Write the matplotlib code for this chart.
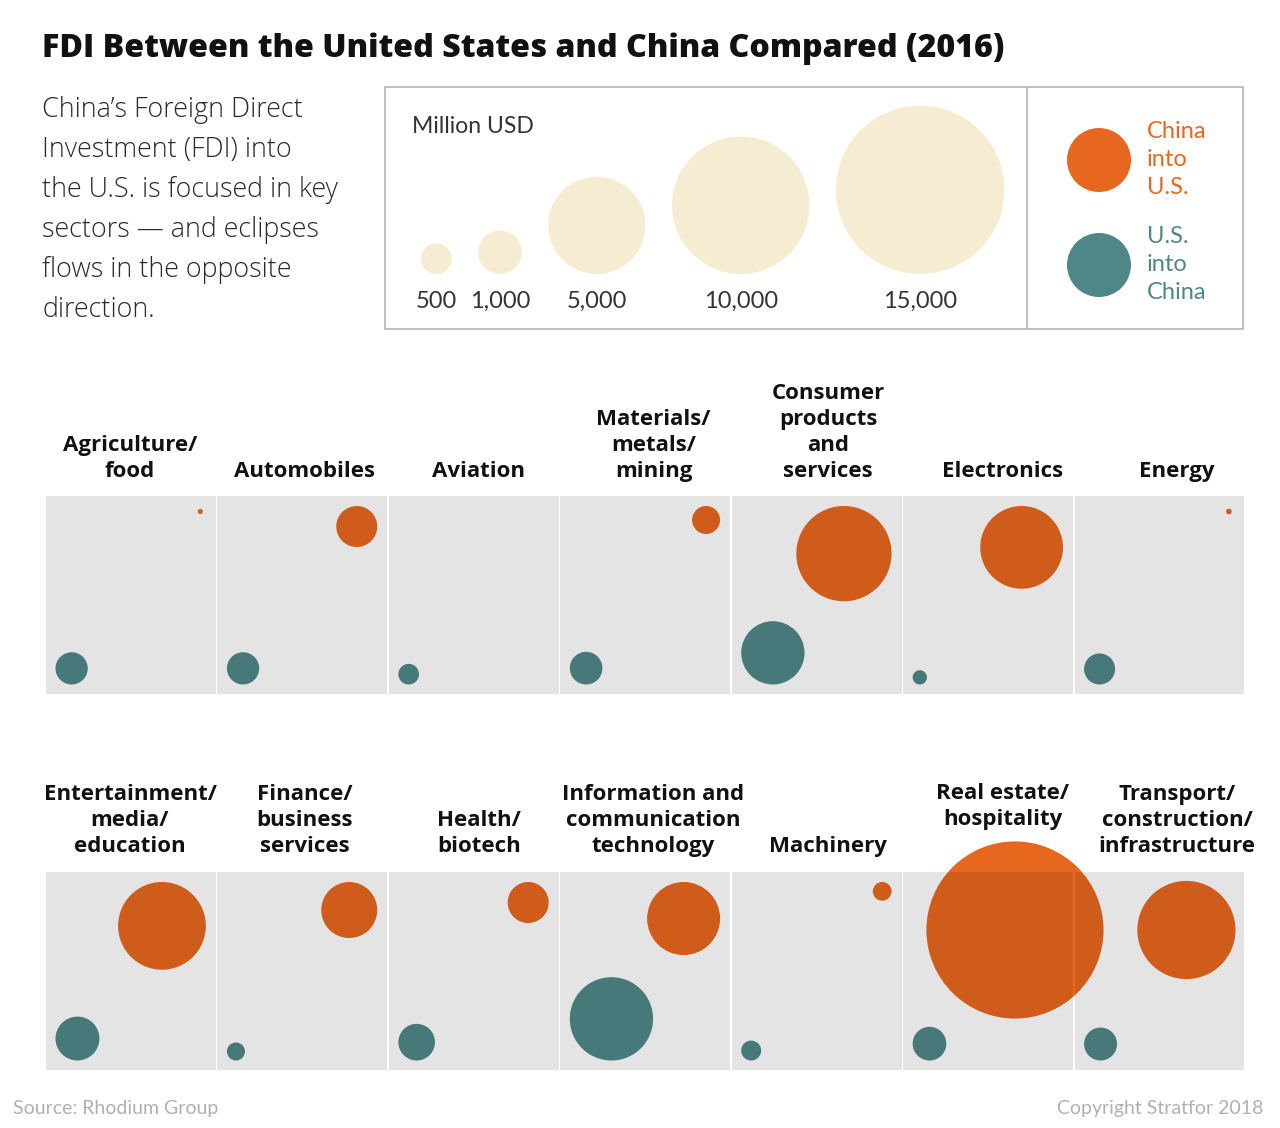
import matplotlib
matplotlib.use('Agg')
import matplotlib.pyplot as plt
from matplotlib.patches import Circle, Rectangle

# sector labels, one list of lines per panel (two rows of seven)
SECTORS = [
    ['Agriculture/', 'food'], ['Automobiles'], ['Aviation'],
    ['Materials/', 'metals/', 'mining'], ['Consumer', 'products', 'and', 'services'],
    ['Electronics'], ['Energy'],
    ['Entertainment/', 'media/', 'education'], ['Finance/', 'business', 'services'],
    ['Health/', 'biotech'], ['Information and', 'communication', 'technology'],
    ['Machinery'], ['Real estate/', 'hospitality'],
    ['Transport/', 'construction/', 'infrastructure'],
]
# million USD
CHINA_INTO_US = [14, 890, 0, 415, 4800, 3620, 17, 4070, 1660, 890, 2820, 185, 16600, 5100]
US_INTO_CHINA = [550, 550, 225, 565, 2120, 108, 510, 1020, 172, 710, 3670, 210, 600, 575]
LEGEND_VALUES = [500, 1000, 5000, 10000, 15000]
LEGEND_LABELS = ['500', '1,000', '5,000', '10,000', '15,000']

ORANGE = '#E8671E'
TEAL = '#4F8789'
CREAM = '#F6ECD2'
GRAY = '#E4E4E4'
FONT = 'Lato'
BOLD_FONT = 'Open Sans'

K = 1.375  # circle diameter in px per sqrt(million USD)

def radius(v):
    return K * v ** 0.5 / 2

def multiply(hex_color, bg=GRAY):
    ''' colour of a multiply-blended circle sitting on the gray panel '''
    c = matplotlib.colors.to_rgb(hex_color)
    b = matplotlib.colors.to_rgb(bg)
    return tuple(x * y for x, y in zip(c, b))

fig = plt.figure(figsize=(12.8, 11.28), dpi=100)
ax = fig.add_axes([0, 0, 1, 1])
ax.set_xlim(0, 1280)
ax.set_ylim(1128, 0)
ax.axis('off')

def text(x, y, s, size, weight='normal', color='#222222', ha='left', family=FONT):
    ax.text(x, y, s, fontsize=size, fontweight=weight, color=color, ha=ha,
            va='baseline', family=family)

# title and intro
text(42, 57, 'FDI Between the United States and China Compared (2016)', 23.1,
     weight='heavy', color='#111111', family=BOLD_FONT)
intro = ['China\u2019s Foreign Direct', 'Investment (FDI) into', 'the U.S. is focused in key',
         'sectors \u2014 and eclipses', 'flows in the opposite', 'direction.']
for i, line in enumerate(intro):
    text(42, 117 + 40 * i, line, 19.4, color='#2a2a2a', weight='light', family=BOLD_FONT)

# legend box
ax.add_patch(Rectangle((385, 87), 858, 242, fill=False, ec='#b5b5b5', lw=1.2))
ax.plot([1027, 1027], [87, 329], color='#b5b5b5', lw=1.2)
text(412, 133, 'Million USD', 16.6, color='#333333')
left = 421
for v, lab in zip(LEGEND_VALUES, LEGEND_LABELS):
    r = radius(v)
    cx = left + r
    ax.add_patch(Circle((cx, 274 - r), r, color=CREAM, lw=0))
    text(cx, 308, lab, 17, color='#333333', ha='center')
    left = cx + r + 26.5
for cy, col, lines in [(160, ORANGE, ['China', 'into', 'U.S.']),
                       (265, TEAL, ['U.S.', 'into', 'China'])]:
    ax.add_patch(Circle((1099, cy), 32, color=col, lw=0))
    for j, line in enumerate(lines):
        text(1147, cy - 22 + 28 * j, line, 17, color=col)

# panels
x0, x1 = 46, 1246
pw = (x1 - x0) / 7
ph = 198
rows_top = [496, 872]
label_base = [477, 852]
pad = 10
panels = []
for row in range(2):
    rects = []
    for i in range(7):
        rect = Rectangle((x0 + i * pw, rows_top[row]), pw - 1.6, ph, color=GRAY, lw=0, zorder=2)
        ax.add_patch(rect)
        rects.append(rect)
    panels.append(rects)

for n, (lines, cn, us) in enumerate(zip(SECTORS, CHINA_INTO_US, US_INTO_CHINA)):
    row, i = divmod(n, 7)
    top = rows_top[row]
    px = x0 + i * pw
    circles = []
    if cn > 0:
        r = radius(cn)
        off = pad + max(min(r, 48), 5.5)
        circles.append((px + pw - 1.6 - off, top + off, r, ORANGE))
    if us > 0:
        r = radius(us)
        off = pad - 0.5 + max(r, 5.5)
        circles.append((px + off, top + ph - off, r, TEAL))
    for cx, cy, r, col in circles:
        # plain colour where the circle leaves the panels, darker over gray
        ax.add_patch(Circle((cx, cy), r, color=col, lw=0, zorder=1))
        for rect in panels[row]:
            c = Circle((cx, cy), r, color=multiply(col), lw=0, zorder=3)
            ax.add_patch(c)
            c.set_clip_path(rect)
    # label, raised a line when the china circle overflows the panel
    base = label_base[row]
    if cn > 0 and radius(cn) > 60:
        base -= 27
    lx = 130 + 174.5 * i
    for j, line in enumerate(reversed(lines)):
        text(lx, base - 26 * j, line, 16, weight='bold', color='#111111', ha='center',
             family=BOLD_FONT)

text(13, 1114, 'Source: Rhodium Group', 14, color='#b0b0b0')
text(1263, 1114, 'Copyright Stratfor 2018', 14, color='#b0b0b0', ha='right')

fig.savefig('out.png', dpi=100, facecolor='white')
